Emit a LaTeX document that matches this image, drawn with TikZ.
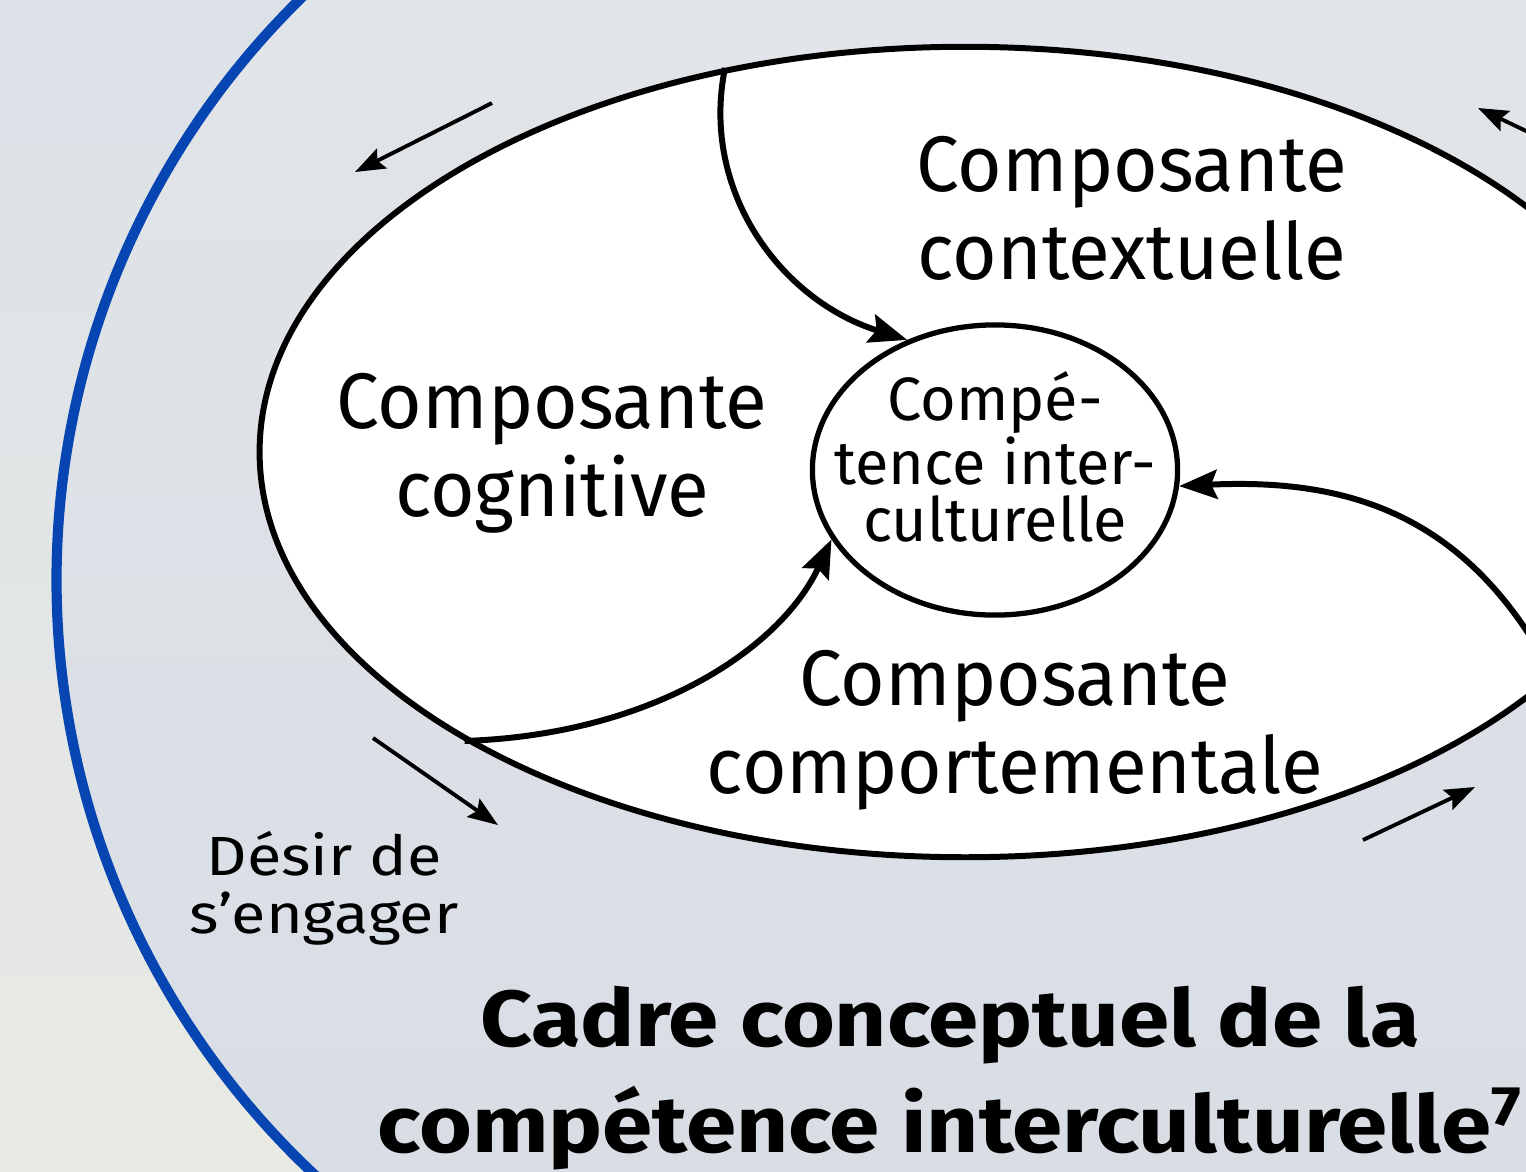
\documentclass[tikz,border=0pt]{standalone}
\usepackage{fontspec}
\setmainfont{Fira Sans}
\newfontfamily\compfont[FakeStretch=0.97]{Fira Sans}
\newfontfamily\wishfont[FakeStretch=1.14]{Fira Sans}
\newfontfamily\titlefont[FakeStretch=1.14]{Fira Sans}
\usetikzlibrary{arrows.meta,shapes.geometric}

\definecolor{bgtop}{RGB}{220,225,232}
\definecolor{bgbot}{RGB}{233,234,228}
\definecolor{intop}{RGB}{226,229,232}
\definecolor{inbot}{RGB}{216,221,229}
\definecolor{ringblue}{RGB}{6,69,178}

\tikzset{
  comp/.style={align=center, font=\compfont\fontsize{22.4}{25}\selectfont},
  flow/.style={line width=1.7pt, -{Stealth[length=3.8mm,width=2.9mm,inset=0.6mm]}},
  drift/.style={line width=1.1pt, -{Stealth[length=3mm,width=2.2mm,inset=0.5mm]}}
}

\begin{document}
\begin{tikzpicture}[x=0.01cm,y=-0.01cm]
    \useasboundingbox (0,0) rectangle (1526,1172);
    \clip (0,0) rectangle (1526,1172);

      % Background and ring
        \shade[top color=bgtop, bottom color=bgbot] (0,0) rectangle (1526,1172);
        \shade[top color=intop, bottom color=inbot] (871,580) ++(128:8.14cm)
              arc[start angle=128, end angle=232, radius=8.14cm]
              -- (1600,1250) -- (1600,-100) -- cycle;
        \draw[ringblue, line width=2.9pt] (871,580) ++(128:8.14cm)
              arc[start angle=128, end angle=232, radius=8.14cm];

      % Ellipses
        \node[draw, ellipse, fill=white, line width=1.7pt, inner sep=0,
              minimum width=14.1cm, minimum height=8.1cm] (ell) at (965,452) {};
        \node[draw, ellipse, line width=1.5pt, inner sep=0,
              minimum width=3.65cm, minimum height=2.9cm] (core) at (995,470) {};
        \node[align=center, font=\fontsize{17.4}{16.3}\selectfont] (coretext) at (995,457)
              {Compé-\\tence inter-\\culturelle};

      % Components
        \node[comp] (ctx) at (1132,208) {Composante\\contextuelle};
        \node[comp] (cog) at (552,453) {Composante\\cognitive};
        \node[comp] (beh) at (1015,730) {Composante\\comportementale};

        \draw[flow] (ell.122) .. controls (700,190) and (780,300) .. (core.124);
        \draw[flow] (ell.210) .. controls (650,735) and (780,650) .. (core.203);
        \draw[flow] (ell.-21) .. controls (1470,515) and (1350,478) .. (core.-5);

      % Outer arrows
        \coordinate (nw0) at (492,103);
        \coordinate (nw1) at (355,172);
        \coordinate (sw0) at (373,738);
        \coordinate (sw1) at (498,825);
        \coordinate (se0) at (1363,840);
        \coordinate (se1) at (1475,787);
        \coordinate (ne0) at (1545,140);
        \coordinate (ne1) at (1478,108);

        \draw[drift] (nw0) -- (nw1);
        \draw[drift] (sw0) -- (sw1);
        \draw[drift] (se0) -- (se1);
        \draw[drift] (ne0) -- (ne1);

        \node[align=center, font=\wishfont\fontsize{15.7}{16.5}\selectfont] (wish) at (324,888)
              {Désir de\\s’engager};

      % Title
        \node[align=center, font=\titlefont\fontsize{22.6}{30}\selectfont\bfseries] (title) at (950,1078)
              {Cadre conceptuel de la\\compétence interculturelle\textsuperscript{7}};

    \end{tikzpicture}
\end{document}
